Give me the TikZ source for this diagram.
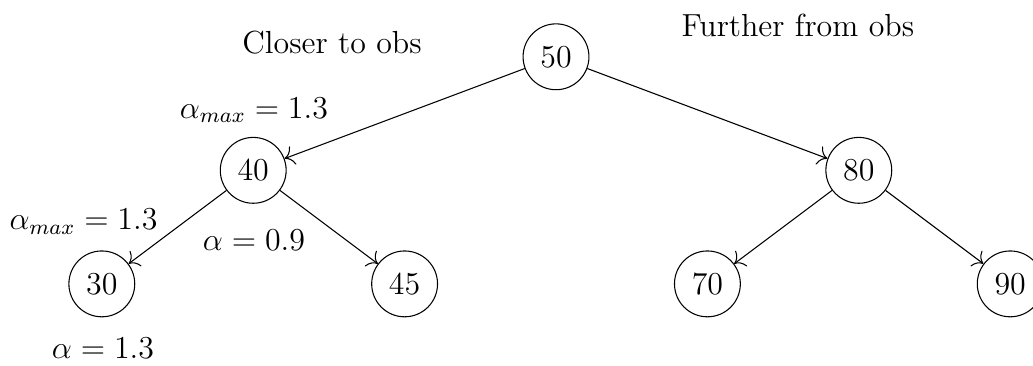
\documentclass[tikz,border=0pt,12pt]{standalone}
\usepackage{tikz}
\usetikzlibrary{arrows.meta}

\tikzset{
	vertex/.style={draw, circle, minimum size=0.87cm, inner sep=0pt},
	edge/.style={-{To[scale=1.4]}}
}

\begin{document}
\begin{tikzpicture}
			%%%%% START %%%%%
			
			\useasboundingbox (0, 0) rectangle (13.646, -4.822);
			
			\node[vertex] (n50) at (7.345, -0.75) {50};
			\node[vertex] (n40) at (3.345, -2.25) {40};
			\node[vertex] (n80) at (11.345, -2.25) {80};
			\node[vertex] (n30) at (1.345, -3.75) {30};
			\node[vertex] (n45) at (5.345, -3.75) {45};
			\node[vertex] (n70) at (9.345, -3.75) {70};
			\node[vertex] (n90) at (13.345, -3.75) {90};
			
			\draw[edge] (n50) -- (n40);
			\draw[edge] (n50) -- (n80);
			\draw[edge] (n40) -- (n30);
			\draw[edge] (n40) -- (n45);
			\draw[edge] (n80) -- (n70);
			\draw[edge] (n80) -- (n90);
			
			\node (closer) at (4.386, -0.561) {Closer to obs};
			\node (further) at (10.54, -0.33) {Further from obs};
			
			\node[anchor=base] (amax40) at (3.355, -1.559) {$\alpha_{max} = 1.3$};
			\node[anchor=base] (amax30) at (1.103, -3.038) {$\alpha_{max} = 1.3$};
			\node[anchor=base] (a45) at (3.355, -3.303) {$\alpha = 0.9$};
			\node[anchor=base] (a30) at (1.36, -4.73) {$\alpha = 1.3$};
			
			%%%%% END %%%%%
		\end{tikzpicture}
\end{document}
